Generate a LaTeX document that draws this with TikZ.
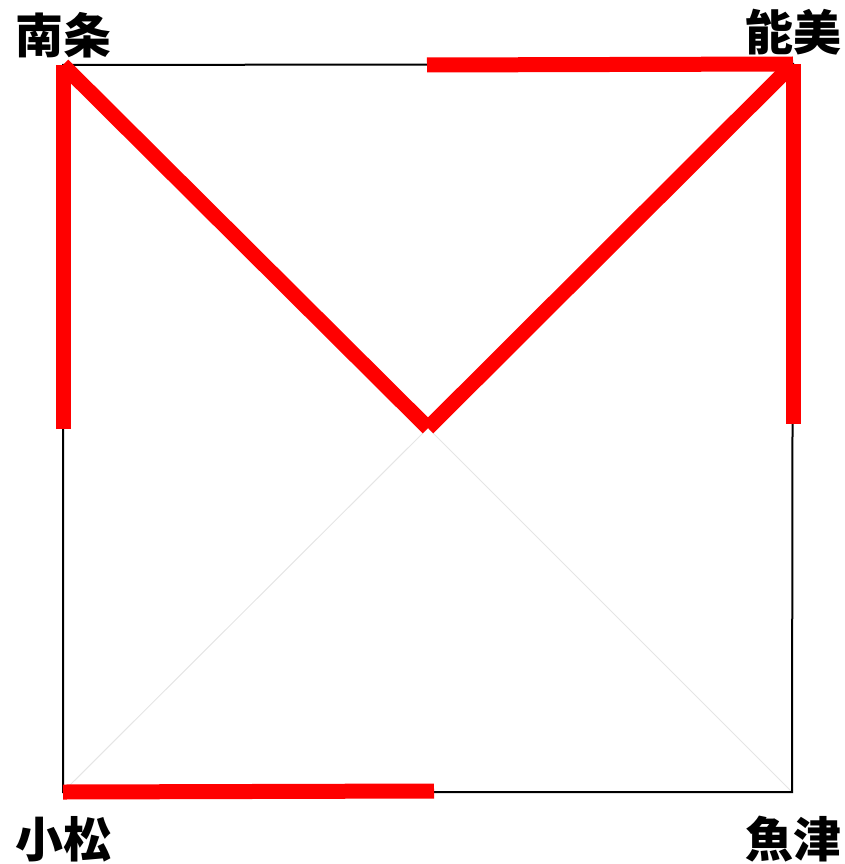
\documentclass[tikz,border=0pt]{standalone}
\usepackage{fontspec}
\newfontfamily\cjk{Noto Sans CJK JP}
\usepackage{tikz}
\usetikzlibrary{positioning}

\tikzset{
  town/.style={font=\cjk\bfseries\fontsize{48}{48}\selectfont, inner sep=0pt},
  road/.style={line width=2pt, black},
  faint/.style={line width=1pt, gray!20},
  route/.style={line width=15pt, red},
}

\begin{document}
\begin{tikzpicture}[x=1pt,y=1pt]
  \useasboundingbox (0,0) rectangle (844,-864);

  \coordinate (nanjo) at (63,-65);
  \coordinate (nomi) at (793,-64);
  \coordinate (komatsu) at (63,-792);
  \coordinate (uozu) at (792,-792);
  \coordinate (mid) at (428,-428);

  \coordinate (leftend) at (63,-429);
  \coordinate (rightend) at (793,-424);
  \coordinate (topend) at (427,-65);
  \coordinate (bottomend) at (434,-791);

  
  \draw[faint] (mid) -- (komatsu);
  \draw[faint] (mid) -- (uozu);

  
  \draw[road] (nanjo) -- (nomi) -- (uozu) -- (komatsu) -- cycle;

  
  \draw[route] (leftend) -- (nanjo);
  \draw[route] (nanjo) -- (mid);
  \draw[route] (mid) -- (nomi);
  \draw[route] (nomi) -- (rightend);
  \draw[route] (topend) -- (nomi);
  \draw[route] (komatsu) -- (bottomend);

  
  \node[town] (lnanjo) at (64,-35) {南条};
  \node[town] (lnomi) at (793,-32) {能美};
  \node[town] (lkomatsu) at (63,-839) {小松};
  \node[town] (luozu) at (793,-839) {魚津};
\end{tikzpicture}
\end{document}
